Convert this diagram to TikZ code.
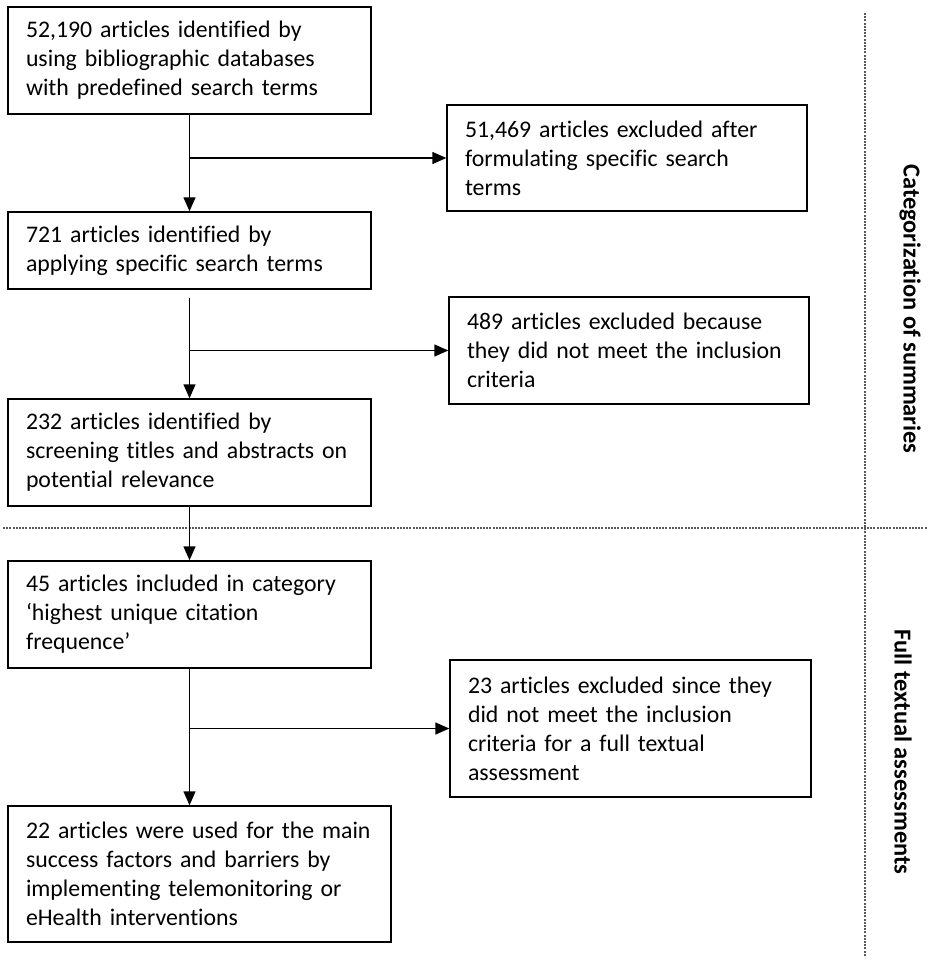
\documentclass[tikz,border=0pt]{standalone}
\usepackage{fontspec}
\setmainfont{Carlito}[Ligatures=NoCommon]
\usetikzlibrary{arrows.meta}
% one unbreakable line of box text
\newcommand{\bxl}[1]{\mbox{#1}}
\begin{document}
\begin{tikzpicture}[x=0.5pt,y=-0.5pt,
  box/.style={draw=black, line width=0.7pt, fill=white, align=left,
    inner xsep=9pt, inner ysep=0pt, font=\fontsize{11.9}{14.5}\selectfont},
  arr/.style={line width=0.7pt, -{Triangle[length=7pt,width=6pt]}},
  divider/.style={draw=black!65, line width=0.6pt, dash pattern=on 1pt off 0.6pt},
  sidelabel/.style={rotate=-90, font=\fontsize{12.2}{14}\selectfont\bfseries, inner sep=0pt}]
\useasboundingbox (0,0) rectangle (927,962);

% main path boxes
\node[box, text width=327*0.5pt, minimum width=363*0.5pt, minimum height=107*0.5pt] (B1) at (189.5,60.5)
  {\bxl{52,190 articles identified by}\\\bxl{using bibliographic databases}\\\bxl{with predefined search terms}};
\node[box, text width=327*0.5pt, minimum width=363*0.5pt, minimum height=77*0.5pt] (B3) at (189.5,250.5)
  {\bxl{721 articles identified by}\\\bxl{applying specific search terms}};
\node[box, text width=327*0.5pt, minimum width=363*0.5pt, minimum height=107*0.5pt] (B5) at (189.5,452.5)
  {\bxl{232 articles identified by}\\\bxl{screening titles and abstracts on}\\\bxl{potential relevance}};
\node[box, text width=327*0.5pt, minimum width=363*0.5pt, minimum height=107*0.5pt] (B6) at (189.5,614.5)
  {\bxl{45 articles included in category}\\\bxl{‘highest unique citation}\\\bxl{frequence’}};
\node[box, text width=347*0.5pt, minimum width=383*0.5pt, minimum height=136*0.5pt] (B8) at (199.5,874)
  {\bxl{22 articles were used for the main}\\\bxl{success factors and barriers by}\\\bxl{implementing telemonitoring or}\\\bxl{eHealth interventions}};

% exclusion boxes
\node[box, text width=324*0.5pt, minimum width=360*0.5pt, minimum height=106*0.5pt] (B2) at (627,158)
  {\bxl{51,469 articles excluded after}\\\bxl{formulating specific search}\\\bxl{terms}};
\node[box, text width=324*0.5pt, minimum width=360*0.5pt, minimum height=107*0.5pt] (B4) at (629,350.5)
  {\bxl{489 articles excluded because}\\\bxl{they did not meet the inclusion}\\\bxl{criteria}};
\node[box, text width=325*0.5pt, minimum width=361*0.5pt, minimum height=137*0.5pt] (B7) at (630.5,728.5)
  {\bxl{23 articles excluded since they}\\\bxl{did not meet the inclusion}\\\bxl{criteria for a full textual}\\\bxl{assessment}};

% phase dividers
\draw[divider] (865,13) -- (865,957);
\draw[divider] (3,528) -- (927,528);

% phase labels
\node[sidelabel] (L1) at (910,309) {Categorization of summaries};
\node[sidelabel] (L2) at (903,752) {Full textual assessments};

% connectors
\draw[arr] (B1.south) -- (B3.north);
\draw[arr] (B1.south |- B2.west) -- (B2.west);
\draw[arr] ([yshift=-4pt]B3.south) -- (B5.north);
\draw[arr] (B3.south |- B4.west) -- (B4.west);
\draw[arr] (B5.south) -- (B6.north);
\draw[arr] (B6.south) -- (B6.south |- B8.north);
\draw[arr] (B6.south |- B7.west) -- (B7.west);
\end{tikzpicture}
\end{document}
